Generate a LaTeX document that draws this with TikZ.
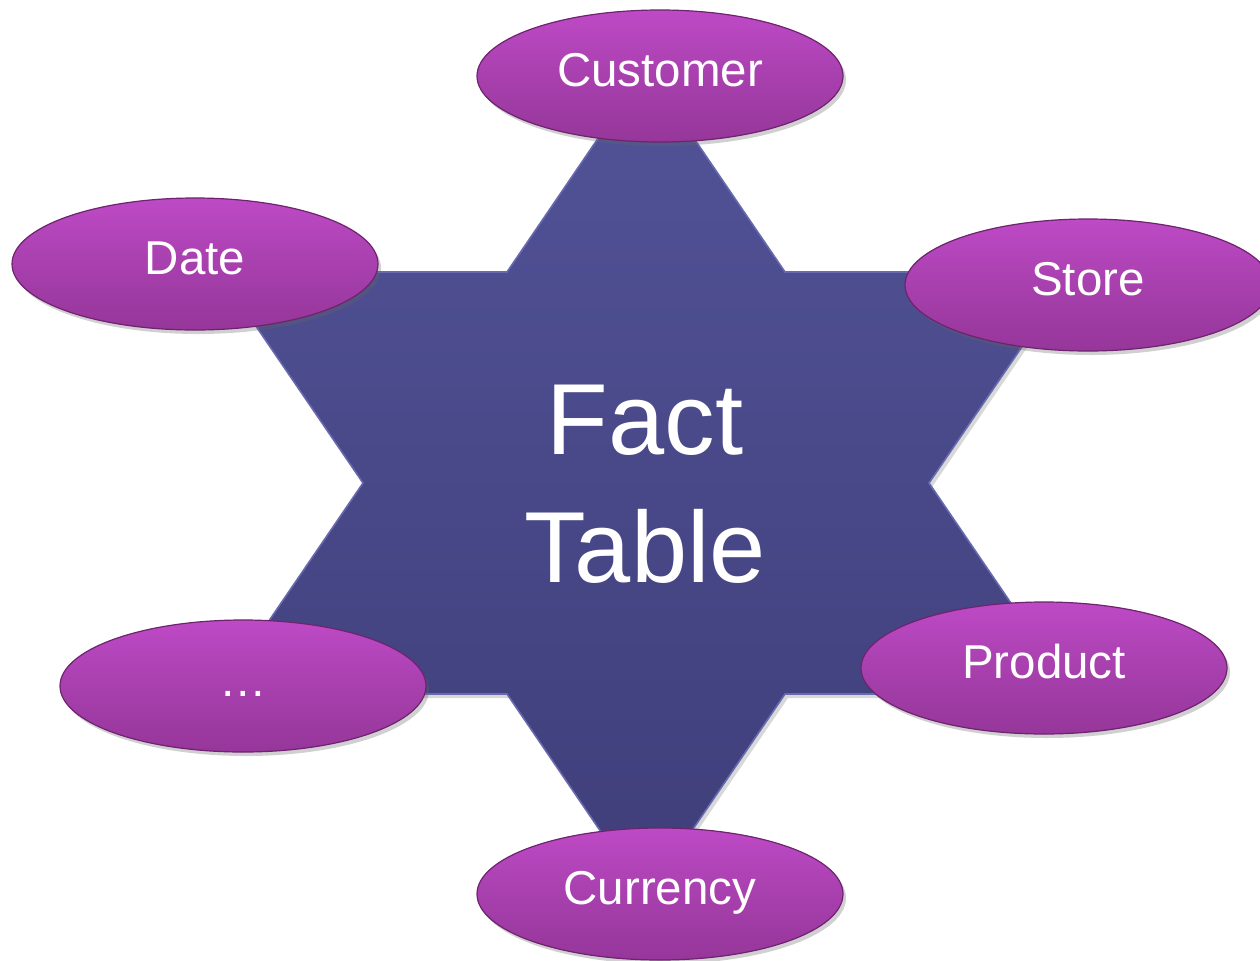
\documentclass[tikz,border=0pt]{standalone}
\usepackage{fontspec}
\setmainfont{Liberation Sans}
\usetikzlibrary{shapes.geometric,shadows}
\definecolor{starTop}{RGB}{82,83,152}
\definecolor{starBot}{RGB}{63,62,122}
\definecolor{starEdge}{RGB}{104,106,176}
\definecolor{dimTop}{RGB}{190,74,198}
\definecolor{dimMid}{RGB}{168,64,174}
\definecolor{dimBot}{RGB}{150,54,154}
\definecolor{dimEdge}{RGB}{110,35,110}
\begin{document}
\begin{tikzpicture}[x=0.5pt,y=-0.5pt,
  dim/.style={ellipse, minimum width=183pt, minimum height=66pt, inner sep=0pt,
    top color=dimTop, bottom color=dimBot, middle color=dimMid,
    draw=dimEdge, line width=0.6pt,
    text=white, font=\fontsize{23.75pt}{28pt}\selectfont,
    text height=17pt, text depth=7pt,
    drop shadow={shadow xshift=1.5pt, shadow yshift=-2pt, opacity=0.3, fill=black!60}},
  fact/.style={text=white, align=center, font=\fontsize{50.5pt}{64pt}\selectfont, inner sep=0pt},
  starshape/.style={top color=starTop, bottom color=starBot, draw=starEdge, line width=0.8pt,
    drop shadow={shadow xshift=1.5pt, shadow yshift=-2pt, opacity=0.25, fill=black!60}}]
\clip (0,0) rectangle (1260,960);
\fill[white] (0,0) rectangle (1260,960);
% hexagram
\path[starshape] (646,68) -- (785,272) -- (1073,272) -- (929,483) -- (1073,694)
  -- (785,694) -- (646,898) -- (507,694) -- (219,694) -- (363,483)
  -- (219,272) -- (507,272) -- cycle;
\node[fact] (fact) at (645,484) {Fact\\Table};
% dimensions
\node[dim] (customer) at (660,76) {Customer};
\node[dim] (date) at (195,264) {Date};
\node[dim] (store) at (1088,285) {Store};
\node[dim] (product) at (1044,668) {Product};
\node[dim] (currency) at (660,894) {Currency};
\node[dim] (more) at (243,686) {…};
\end{tikzpicture}
\end{document}
